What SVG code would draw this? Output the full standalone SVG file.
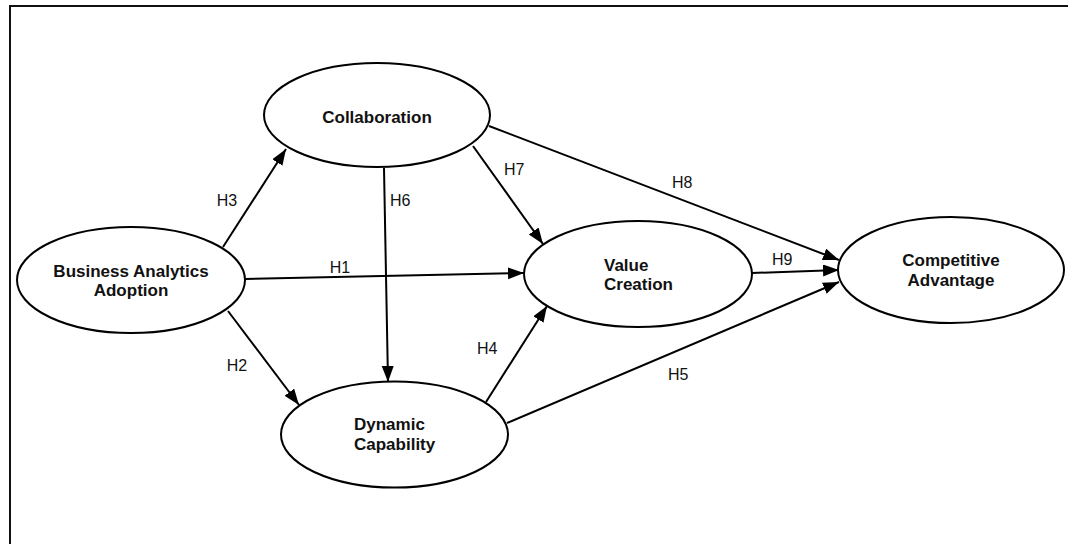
<svg xmlns="http://www.w3.org/2000/svg" width="1068" height="544" viewBox="0 0 1068 544">
<style>
.node{fill:#fff;stroke:#000;stroke-width:2}
.t{font-family:"Liberation Sans",Arial,sans-serif;font-weight:bold;font-size:17px;fill:#111}
.l{font-family:"Liberation Sans",Arial,sans-serif;font-size:16px;fill:#111}
.e{stroke:#000;stroke-width:2;fill:none;marker-end:url(#arr)}
</style>
<defs>
<marker id="arr" markerUnits="userSpaceOnUse" markerWidth="18" markerHeight="14" refX="16" refY="6" orient="auto">
<path d="M0,0 L16,6 L0,12 z" fill="#000"/>
</marker>
</defs>
<rect x="10" y="6" width="1080" height="560" fill="#fff" stroke="#111" stroke-width="2"/>
<g id="connectors">
<line class="e" x1="223" y1="247" x2="286" y2="149"/>
<line class="e" x1="245" y1="279" x2="524" y2="273"/>
<line class="e" x1="228" y1="311" x2="299" y2="405"/>
<line class="e" x1="384" y1="168" x2="388" y2="382"/>
<line class="e" x1="473" y1="146" x2="543" y2="244"/>
<line class="e" x1="489" y1="126" x2="839" y2="260"/>
<line class="e" x1="752" y1="273" x2="839" y2="270"/>
<line class="e" x1="507" y1="423" x2="839" y2="282"/>
<line class="e" x1="486" y1="402" x2="547" y2="306"/>
<text class="l" x="227" y="206" text-anchor="middle">H3</text>
<text class="l" x="340" y="273" text-anchor="middle">H1</text>
<text class="l" x="237" y="371" text-anchor="middle">H2</text>
<text class="l" x="390" y="206">H6</text>
<text class="l" x="504" y="175">H7</text>
<text class="l" x="672" y="188">H8</text>
<text class="l" x="772" y="265">H9</text>
<text class="l" x="668" y="380">H5</text>
<text class="l" x="477" y="354">H4</text>
</g>
<g id="business-analytics-adoption">
<ellipse class="node" cx="131" cy="280" rx="114" ry="53"/>
<text class="t" x="131" y="276.5" text-anchor="middle">Business Analytics</text>
<text class="t" x="131" y="296" text-anchor="middle">Adoption</text>
</g>
<g id="collaboration">
<ellipse class="node" cx="377" cy="115" rx="113" ry="52"/>
<text class="t" x="377" y="122.5" text-anchor="middle">Collaboration</text>
</g>
<g id="value-creation">
<ellipse class="node" cx="638" cy="274" rx="114" ry="53"/>
<text class="t" x="604" y="270.5">Value</text>
<text class="t" x="604" y="290">Creation</text>
</g>
<g id="dynamic-capability">
<ellipse class="node" cx="394.5" cy="434.5" rx="113.5" ry="53"/>
<text class="t" x="354" y="430">Dynamic</text>
<text class="t" x="354" y="449.5">Capability</text>
</g>
<g id="competitive-advantage">
<ellipse class="node" cx="951" cy="270" rx="113" ry="53"/>
<text class="t" x="951" y="266" text-anchor="middle">Competitive</text>
<text class="t" x="951" y="285.5" text-anchor="middle">Advantage</text>
</g>
</svg>
